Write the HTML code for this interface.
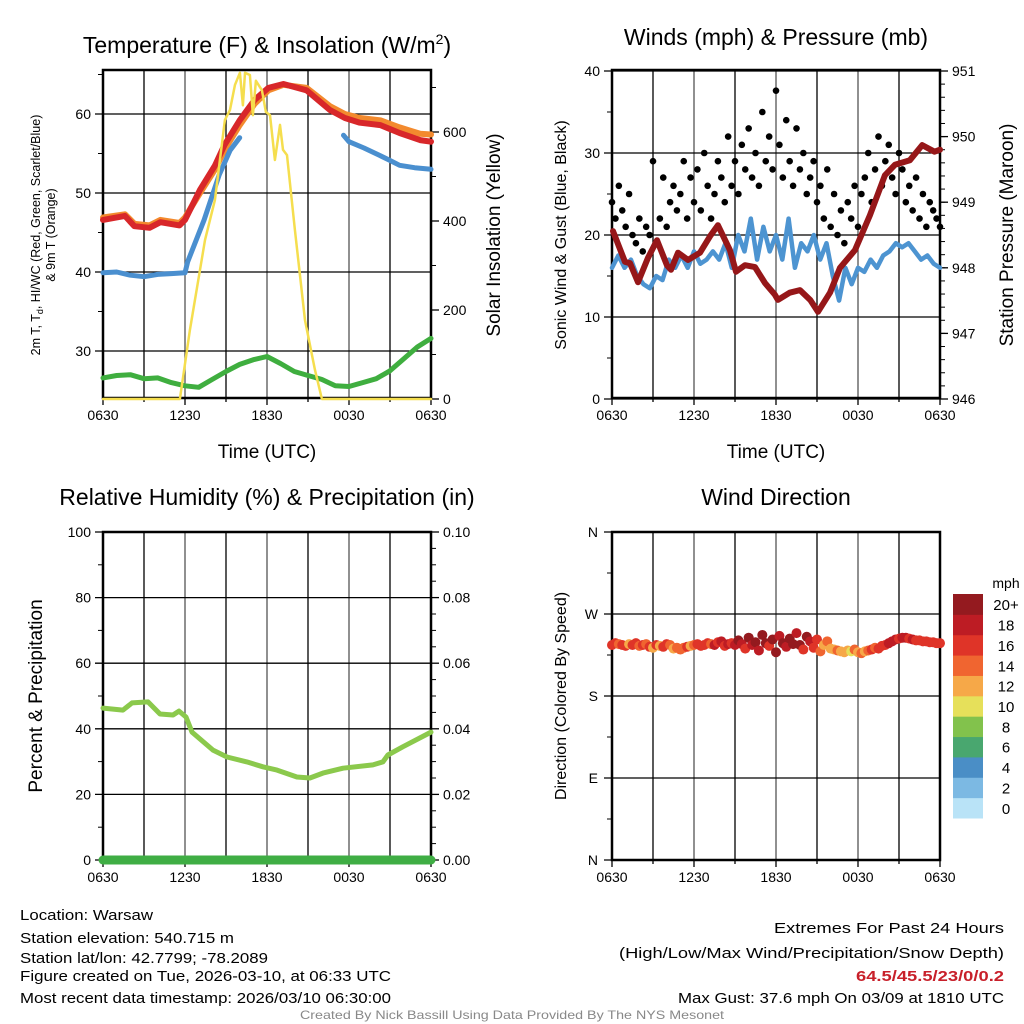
<!DOCTYPE html>
<html><head><meta charset="utf-8"><style>
html,body{margin:0;padding:0;background:#fff}
svg{display:block;font-family:"Liberation Sans",sans-serif}
</style></head><body>
<svg id="s" width="1024" height="1024" viewBox="0 0 1024 1024" xmlns="http://www.w3.org/2000/svg">
<rect width="1024" height="1024" fill="#fff"/>
<g id="g1"></g>
<g id="g2"></g>
<g id="g3"></g>
<g id="g4"></g>
<g font-size="15" fill="#000">
<text x="20" y="920" textLength="133" lengthAdjust="spacingAndGlyphs">Location: Warsaw</text>
<text x="20" y="943" textLength="214" lengthAdjust="spacingAndGlyphs">Station elevation: 540.715 m</text>
<text x="20" y="963" textLength="248" lengthAdjust="spacingAndGlyphs">Station lat/lon: 42.7799; -78.2089</text>
<text x="20" y="981" textLength="371" lengthAdjust="spacingAndGlyphs">Figure created on Tue, 2026-03-10, at 06:33 UTC</text>
<text x="20" y="1003" textLength="371" lengthAdjust="spacingAndGlyphs">Most recent data timestamp: 2026/03/10 06:30:00</text>
<text x="1004" y="933" text-anchor="end" textLength="230" lengthAdjust="spacingAndGlyphs">Extremes For Past 24 Hours</text>
<text x="1004" y="958" text-anchor="end" textLength="385" lengthAdjust="spacingAndGlyphs">(High/Low/Max Wind/Precipitation/Snow Depth)</text>
<text x="1004" y="981" text-anchor="end" fill="#c8202a" font-weight="bold" textLength="148" lengthAdjust="spacingAndGlyphs">64.5/45.5/23/0/0.2</text>
<text x="1004" y="1003" text-anchor="end" textLength="326" lengthAdjust="spacingAndGlyphs">Max Gust: 37.6 mph On 03/09 at 1810 UTC</text>
<text x="512" y="1019" text-anchor="middle" fill="#888" font-size="12" textLength="424" lengthAdjust="spacingAndGlyphs">Created By Nick Bassill Using Data Provided By The NYS Mesonet</text>
</g>
</svg>
<script>
// ---- data ----
const xTickLabels=["0630","1230","1830","0030","0630"];
const tempHours=[0,1.6,2.3,3.4,4.2,5.6,6.0,7.1,8.2,8.9,10.0,11.1,12.1,13.2,14.9,16.6,17.7,18.8,20.3,21.7,23.2,24];
const tempRed=[46.6,47.1,45.8,45.6,46.3,45.9,46.6,50.4,53.5,56.1,59.2,61.8,63.3,63.8,63.0,60.5,59.5,58.9,58.6,57.6,56.7,56.5];
const tempOrange=[46.9,47.3,46.1,45.9,46.6,46.2,46.9,50.0,53.0,55.5,58.6,61.3,63.0,63.7,63.3,61.0,60.0,59.5,59.2,58.3,57.5,57.4];
const hiHours=[0,1,2,3,4,5,6,6.2,7.4,8.5,9.3,10.0];
const hiVals=[39.9,40.0,39.6,39.4,39.7,39.8,39.9,41.3,46.6,52.3,55.4,57.0];
const wcHours=[17.6,18.0,19.1,20.2,20.9,21.7,22.8,24];
const wcVals=[57.3,56.5,55.7,54.8,54.2,53.5,53.2,53.0];
const dewHours=[0,1,2,3,4,5,6,7,8,9,10,11,12,13,14,15,16,17,18,19,20,21,22,23,24];
const dewVals=[26.6,26.9,27.0,26.5,26.6,26.0,25.6,25.4,26.4,27.4,28.3,28.9,29.3,28.4,27.4,26.9,26.4,25.6,25.5,26.0,26.5,27.5,29.0,30.5,31.6];
const solHours=[0,5.63,6.36,7.46,8.19,8.92,9.29,9.66,10.02,10.24,10.39,10.75,10.97,11.19,11.63,11.92,12.22,12.58,12.95,13.17,13.46,14.04,14.78,15.51,16.02,24];
const solVals=[0,0,155,357,447,627,650,706,733,660,733,728,638,715,694,645,638,537,616,560,548,380,177,65,0,0];
const tempTicks=[30,40,50,60];
const solTicks=[0,200,400,600];

const presHours=[0.07,0.95,1.32,1.9,2.63,3.29,4.02,4.32,4.83,5.56,6.44,7.17,7.75,8.63,9.07,9.73,10.46,11.19,11.92,12.14,13.0,13.75,14.5,15.07,15.95,16.68,17.78,18.87,19.97,20.7,21.8,22.7,23.6,24];
const presVals=[948.56,948.09,948.07,947.78,948.15,948.42,948.04,947.97,948.23,948.12,948.23,948.48,948.65,948.27,947.94,948.04,948.01,947.77,947.59,947.51,947.62,947.66,947.51,947.33,947.62,948.0,948.27,948.80,949.41,949.57,949.64,949.87,949.77,949.80];
const windVals=[16,17.5,16,17,15,14,13.5,15,14.5,17,16,17.5,16,18,16.5,17,18,17,19,16,20,18,22,17,21,18,20,17,22,16,19,18,20,17,19,15,12,16,14,16,15.5,17,16,17.5,18,19,18.5,19,18,17,17.5,16.5,16];
const gustVals=[24,22,26,23,21,25,20,19,22,18,21,20,29,19,22,27,21,24,26,23,25,29,22,27,24,28,23,30,26,22,25,29,27,24,32,26,29,25,31,28,33,27,30,26,35,29,32,28,37.6,31,27,34,29,26,33,28,30,25,27,29,24,26,22,28,21,25,20,23,19,24,22,26,21,25,27,30,24,28,32,26,29,31,27,25,30,28,24,26,23,27,22,25,21,24,23,22,21];
const windTicks=[0,10,20,30,40];
const presTicks=[946,947,948,949,950,951];

const rhHours=[0,1.46,2.12,3.29,4.17,5.12,5.56,6.07,6.51,8.05,9.07,10.53,11.7,12.73,14.19,15.14,16.09,17.56,19.75,20.48,20.85,21.94,24];
const rhVals=[46.3,45.7,47.9,48.2,44.5,44.2,45.4,43.6,39.0,33.5,31.4,29.9,28.4,27.4,25.3,25.0,26.5,28.0,29.0,29.9,32.0,34.5,39.0];
const precipVals=[0,0];
const rhTicks=[0,20,40,60,80,100];
const precipTicks=["0.00","0.02","0.04","0.06","0.08","0.10"];

const dirVals=[236,238,237,236,235,237,236,238,235,236,237,234,233,236,235,234,237,236,232,233,
231,233,234,235,236,237,235,236,238,237,236,239,240,235,237,238,236,241,237,232,
244,236,239,230,247,238,235,242,228,246,238,234,243,237,249,236,231,245,240,233,
242,229,236,240,232,231,230,229,228,230,229,231,228,227,229,230,231,233,232,235,
236,238,240,242,243,244,244,243,242,241,241,240,240,239,239,238,238];
const dirSpeeds=[16,17,15,16,17,13,16,17,14,16,15,17,12,16,13,17,16,15,13,14,
14,15,16,13,15,16,17,16,17,15,18,17,19,16,18,17,19,20,18,17,
21,19,20,18,22,21,17,20,21,19,22,18,20,21,19,22,17,20,18,16,
17,14,13,15,12,13,14,12,12,13,11,14,12,15,13,14,16,15,17,16,
17,18,19,18,17,19,18,17,18,17,16,17,16,17,16,16,16];
const dirLabels=["N","E","S","W","N"];
const cbLabels=["0","2","4","6","8","10","12","14","16","18","20+"];
const cbColors=["#b9e3f7","#7cb9e3","#4a8ec6","#49a76f","#82c24c","#e6e05a","#f6a848","#f06530","#df3428","#bd1c24","#941a1f"];

// ---- helpers ----
const NS="http://www.w3.org/2000/svg";
function mk(parent,tag,attrs){const e=document.createElementNS(NS,tag);for(const k in attrs)e.setAttribute(k,attrs[k]);parent.appendChild(e);return e;}
function txt(parent,x,y,s,size,anchor,extra){const t=mk(parent,"text",Object.assign({x:x,y:y,"font-size":size,"text-anchor":anchor||"middle"},extra||{}));t.textContent=s;return t;}
const X0a=103,X0b=612,W=328;
function xs(x0){return h=>x0+h/24*W;}
function lin(d0,d1,p0,p1){return v=>p0+(v-d0)/(d1-d0)*(p1-p0);}
function frame(g,x0,y0,yTicksPix,minorPix){
  for(let i=0;i<=8;i++){const x=x0+i*W/8;const l=mk(g,"line",{x1:x,y1:y0,x2:x,y2:y0+W,stroke:i%2?"#000":"#555","stroke-width":1.3});
  
  }
  yTicksPix.forEach(y=>{const l=mk(g,"line",{x1:x0-8,y1:y,x2:x0+W,y2:y,stroke:"#000","stroke-width":1.3});
  
  });
  (minorPix||[]).forEach(y=>{mk(g,"line",{x1:x0-5,y1:y,x2:x0,y2:y,stroke:"#000","stroke-width":1});});
  const b=mk(g,"rect",{x:x0,y:y0,width:W,height:W,fill:"none",stroke:"#000","stroke-width":2.5});
  
  
  for(let i=0;i<=8;i++){const x=x0+i*W/8;mk(g,"line",{x1:x,y1:y0+W,x2:x,y2:y0+W+(i%2?4:7),stroke:"#000","stroke-width":1.3});}
  xTickLabels.forEach((s,i)=>{const t=txt(g,x0+i*W/4,y0+W+22,s,14);
  
  });
}
function path(g,hours,vals,X,Y,color,w,name){
  let d="";hours.forEach((h,i)=>{d+=(i?"L":"M")+X(h).toFixed(1)+","+Y(vals[i]).toFixed(1);});
  const p=mk(g,"path",{d:d,fill:"none",stroke:color,"stroke-width":w,"stroke-linejoin":"round","stroke-linecap":"round"});
  
  
  return p;
}
function spread(n){return Array.from({length:n},(_,i)=>i*24/(n-1));}

// ---- panel 1 ----
(function(){
  const g=document.getElementById("g1");const y0=70;
  const X=xs(X0a);const Y=lin(60,30,114,351);const YS=lin(0,600,399,132);
  frame(g,X0a,y0,tempTicks.map(Y),[35,45,55,65].map(Y));
  solTicks.forEach(v=>{mk(g,"line",{x1:X0a+W,y1:YS(v),x2:X0a+W+8,y2:YS(v),stroke:"#000","stroke-width":1.3});
    const t=txt(g,X0a+W+12,YS(v)+5,String(v),14,"start");
    
    });
  [100,300,500,700].forEach(v=>mk(g,"line",{x1:X0a+W,y1:YS(v),x2:X0a+W+5,y2:YS(v),stroke:"#000","stroke-width":1}));
  tempTicks.forEach(v=>{const t=txt(g,X0a-12,Y(v)+5,String(v),14,"end");
    
    });
  path(g,dewHours,dewVals,X,Y,"#3fae3f",5,"dewpoint-line");
  path(g,tempHours,tempOrange,X,Y,"#f38a2e",6,"temp-9m-line");
  path(g,tempHours,tempRed,X,Y,"#d8272a",6,"temp-2m-line");
  path(g,hiHours,hiVals,X,Y,"#4a8fcf",5,"heat-index-line");
  path(g,wcHours,wcVals,X,Y,"#4a8fcf",5,"wind-chill-line");
  path(g,solHours,solVals,X,YS,"#f5de4e",2.5,"insolation-line");
  const t=mk(g,"text",{x:267,y:53,"font-size":23,"text-anchor":"middle"});
  t.innerHTML='Temperature (F) &amp; Insolation (W/m<tspan dy="-9" font-size="14">2</tspan><tspan dy="9">)</tspan>';
  
  
  const xt=txt(g,267,458,"Time (UTC)",19);
  
  
  const yt=mk(g,"text",{transform:"translate(40,235) rotate(-90)","font-size":12.5,"text-anchor":"middle"});
  yt.innerHTML='2m T, T<tspan dy="3" font-size="9">d</tspan><tspan dy="-3">, HI/WC (Red, Green, Scarlet/Blue)</tspan>';
  
  
  const yt2=mk(g,"text",{transform:"translate(55,235) rotate(-90)","font-size":12.5,"text-anchor":"middle"});yt2.textContent="& 9m T (Orange)";
  
  
  const rt=mk(g,"text",{transform:"translate(500,235) rotate(-90)","font-size":19,"text-anchor":"middle"});rt.textContent="Solar Insolation (Yellow)";
  
  
})();

// ---- panel 2 ----
(function(){
  const g=document.getElementById("g2");const y0=70;
  const X=xs(X0b);const Y=lin(0,40,399,71);const YP=lin(946,951,399,71);
  frame(g,X0b,y0,windTicks.map(Y),[5,15,25,35].map(Y));
  windTicks.forEach(v=>{const t=txt(g,X0b-12,Y(v)+5,String(v),14,"end");
    
    });
  presTicks.forEach(v=>{mk(g,"line",{x1:X0b+W,y1:YP(v),x2:X0b+W+8,y2:YP(v),stroke:"#000","stroke-width":1.3});
    const t=txt(g,X0b+W+12,YP(v)+5,String(v),14,"start");
    
    });
  for(let v=946.2;v<951;v+=0.2){mk(g,"line",{x1:X0b+W,y1:YP(v),x2:X0b+W+5,y2:YP(v),stroke:"#000","stroke-width":1});}
  path(g,spread(windVals.length),windVals,X,Y,"#4d94d1",4.5,"sonic-wind-line");
  const gh=spread(gustVals.length);
  gustVals.forEach((v,i)=>{const c=mk(g,"circle",{cx:X(gh[i]),cy:Y(v),r:3.3,fill:"#000"});
    
    });
  path(g,presHours,presVals,X,YP,"#961719",6,"pressure-line");
  const t=txt(g,776,45,"Winds (mph) & Pressure (mb)",23);
  
  
  const xt=txt(g,776,458,"Time (UTC)",19);
  
  
  const yt=mk(g,"text",{transform:"translate(566,235) rotate(-90)","font-size":16,"text-anchor":"middle"});yt.textContent="Sonic Wind & Gust (Blue, Black)";
  
  
  const rt=mk(g,"text",{transform:"translate(1013,235) rotate(-90)","font-size":19,"text-anchor":"middle"});rt.textContent="Station Pressure (Maroon)";
  
  
})();

// ---- panel 3 ----
(function(){
  const g=document.getElementById("g3");const y0=532;
  const X=xs(X0a);const Y=lin(0,100,860,532);
  frame(g,X0a,y0,rhTicks.map(Y),[10,30,50,70,90].map(Y));
  rhTicks.forEach(v=>{const t=txt(g,X0a-12,Y(v)+5,String(v),14,"end");
    
    });
  precipTicks.forEach((s,i)=>{const y=Y(i*20);mk(g,"line",{x1:X0a+W,y1:y,x2:X0a+W+8,y2:y,stroke:"#000","stroke-width":1.3});
    const t=txt(g,X0a+W+12,y+5,s,14,"start");
    
    });
  for(let v=5;v<100;v+=5){if(v%20)mk(g,"line",{x1:X0a+W,y1:Y(v),x2:X0a+W+5,y2:Y(v),stroke:"#000","stroke-width":1});}
  path(g,rhHours,rhVals,X,Y,"#8bc94c",5,"humidity-line");
  const YP=lin(0,0.1,860,532);
  path(g,[0,24],precipVals,X,YP,"#3fae44",9,"precipitation-line");
  const t=txt(g,267,505,"Relative Humidity (%) & Precipitation (in)",23);
  
  
  const yt=mk(g,"text",{transform:"translate(42,696) rotate(-90)","font-size":19,"text-anchor":"middle"});yt.textContent="Percent & Precipitation";
  
  
})();

// ---- panel 4 ----
(function(){
  const g=document.getElementById("g4");const y0=532;
  const X=xs(X0b);const Y=lin(0,360,860,532);
  frame(g,X0b,y0,[0,90,180,270,360].map(Y),[45,135,225,315].map(Y));
  dirLabels.forEach((s,i)=>{const t=txt(g,X0b-14,Y(i*90)+5,s,14,"end");
    
    });
  const dh=spread(dirVals.length);
  dirVals.forEach((v,i)=>{const bin=Math.min(10,Math.floor(dirSpeeds[i]/2));
    const c=mk(g,"circle",{cx:X(dh[i]),cy:Y(v),r:5,fill:cbColors[bin]});
    
    });
  const t=txt(g,776,505,"Wind Direction",23);
  
  
  const yt=mk(g,"text",{transform:"translate(566,696) rotate(-90)","font-size":16,"text-anchor":"middle"});yt.textContent="Direction (Colored By Speed)";
  
  
  const cbTop=594,cbH=224/11;
  cbColors.forEach((c,i)=>{const r=mk(g,"rect",{x:953,y:cbTop+(10-i)*cbH,width:30,height:cbH+0.5,fill:c});
    
    
    const l=txt(g,1006,cbTop+(10-i)*cbH+cbH/2+6,cbLabels[i],15);
    
    });
  const u=txt(g,1006,588,"mph",14);
  
  
})();
</script>
</body></html>
